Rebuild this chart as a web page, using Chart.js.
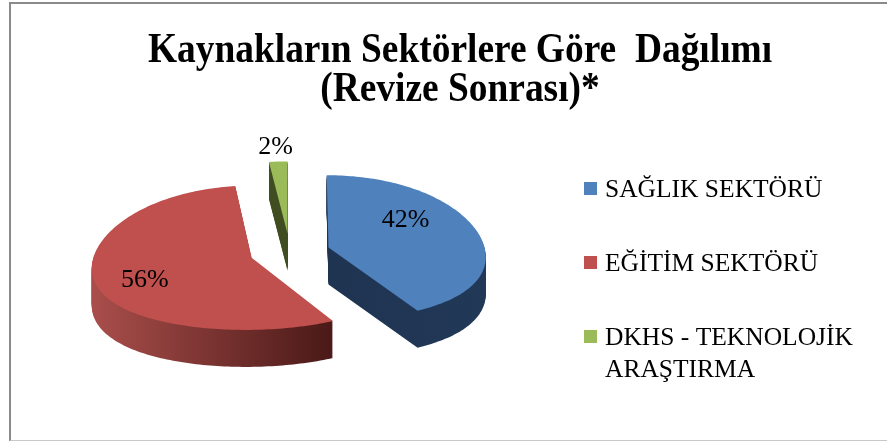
<!DOCTYPE html>
<html>
<head>
<meta charset="utf-8">
<script src="https://cdn.jsdelivr.net/npm/chart.js@4.4.1/dist/chart.umd.min.js"></script>
<style>
html, body { margin: 0; padding: 0; background: #ffffff; }
#wrap { position: relative; width: 887px; height: 442px; overflow: hidden; }
#c { position: absolute; left: 0; top: 0; }
#frame { position: absolute; left: 9px; top: 2px; width: 900px; height: 439px; box-sizing: border-box;
  border-left: 2px solid #8a8a8a; border-top: 2px solid #8a8a8a; border-bottom: 1px solid #c8c8c8; pointer-events: none; }
</style>
</head>
<body>
<div id="wrap"><canvas id="c" width="887" height="442"></canvas><div id="frame"></div></div>
<script>
// ---- data ----
const categories = ['SAĞLIK SEKTÖRÜ', 'EĞİTİM SEKTÖRÜ', 'DKHS - TEKNOLOJİK ARAŞTIRMA'];
const legendLines = [['SAĞLIK SEKTÖRÜ'], ['EĞİTİM SEKTÖRÜ'], ['DKHS - TEKNOLOJİK', 'ARAŞTIRMA']];
const shares = [42, 56, 2];
const titleLines = ['Kaynakların Sektörlere Göre  Dağılımı', '(Revize Sonrası)*'];

// ---- styles ----
const topColors = ['#4f81bd', '#c0504d', '#9bbb59'];
const sideColorsA = ['#1f3451', '#a94e4b', '#3f4d21'];
const sideColorsB = ['#213857', '#4a1917', '#3f4d21'];
const TILT = 0.46;      // vertical squash of the pie plane
const DEPTH = 37;       // extrusion height in px
const PA = 0.00065, PB = 0.000002; // mild perspective (front wider than back)

function proj(px, py, X, Y, d) {
  const s = 1 + PA * Y + PB * Y * Y;
  return [px + X * s, py + Y * TILT + d];
}
function slicePoly(arc) {
  const off = arc.options.offset || 0;
  const mid = (arc.startAngle + arc.endAngle) / 2;
  const ox = Math.cos(mid) * off, oy = Math.sin(mid) * off;
  const r = arc.outerRadius;
  const pts = [[ox, oy]];
  const span = arc.endAngle - arc.startAngle;
  const n = Math.max(4, Math.ceil(span / 0.02));
  for (let i = 0; i <= n; i++) {
    const a = arc.startAngle + span * i / n;
    pts.push([ox + Math.cos(a) * r, oy + Math.sin(a) * r]);
  }
  return pts;
}
function trace(ctx, pts, px, py, d) {
  ctx.beginPath();
  pts.forEach(([X, Y], k) => {
    const [x, y] = proj(px, py, X, Y, d);
    if (k) ctx.lineTo(x, y); else ctx.moveTo(x, y);
  });
  ctx.closePath();
}

const pie3d = {
  id: 'pie3d',
  beforeDatasetsDraw(chart) {
    const ctx = chart.ctx;
    const arcs = chart.getDatasetMeta(0).data;
    if (!arcs.length) return false;
    const px = arcs[0].x, py = arcs[0].y;
    const polys = arcs.map(slicePoly);
    const fills = polys.map((pts, i) => {
      const xs = pts.map(([X, Y]) => proj(px, py, X, Y, 0)[0]);
      const g = ctx.createLinearGradient(Math.min(...xs), 0, Math.max(...xs), 0);
      g.addColorStop(0, sideColorsA[i]);
      g.addColorStop(1, sideColorsB[i]);
      return g;
    });
    for (let d = DEPTH; d >= 1; d--) {
      polys.forEach((pts, i) => { trace(ctx, pts, px, py, d); ctx.fillStyle = fills[i]; ctx.fill(); });
    }
    polys.forEach((pts, i) => { trace(ctx, pts, px, py, 0); ctx.fillStyle = topColors[i]; ctx.fill(); });
    return false;
  },
  afterDraw(chart) {
    const ctx = chart.ctx;
    const arcs = chart.getDatasetMeta(0).data;
    const vals = chart.data.datasets[0].data;
    const total = vals.reduce((a, b) => a + b, 0);
    // percentage labels
    ctx.save();
    ctx.fillStyle = '#000';
    ctx.font = '26px "Liberation Serif", "Times New Roman", serif';
    ctx.textAlign = 'center';
    ctx.textBaseline = 'middle';
    arcs.forEach((arc, i) => {
      const pct = Math.round(vals[i] / total * 100);
      const off = arc.options.offset || 0;
      const mid = (arc.startAngle + arc.endAngle) / 2;
      const r = arc.outerRadius;
      const sx = arc.x + Math.cos(mid) * off;
      const sy = arc.y + Math.sin(mid) * off * TILT;
      let lx, ly;
      if (pct < 5) { lx = sx + Math.cos(mid) * r * 1.2; ly = sy + Math.sin(mid) * r * 1.2 * TILT; }
      else { lx = sx + Math.cos(mid) * r * 0.61 - 16; ly = sy + Math.sin(mid) * r * 0.57 - 5; }
      ctx.fillText(pct + '%', lx, ly);
    });
    ctx.restore();

    // title (condensed bold serif)
    ctx.save();
    ctx.fillStyle = '#000';
    ctx.font = 'bold 43px "Liberation Serif", "Times New Roman", serif';
    ctx.textAlign = 'center';
    ctx.textBaseline = 'alphabetic';
    titleLines.forEach((t, i) => {
      ctx.save();
      ctx.translate(460, 62 + i * 39);
      ctx.scale(0.87, 1);
      ctx.fillText(t, 0, 0);
      ctx.restore();
    });
    ctx.restore();

    // legend
    ctx.save();
    ctx.font = '25.5px "Liberation Serif", "Times New Roman", serif';
    ctx.textAlign = 'left';
    ctx.textBaseline = 'alphabetic';
    legendLines.forEach((lines, i) => {
      const base = 197 + i * 74;
      ctx.fillStyle = topColors[i];
      ctx.fillRect(584, base - 15, 13, 13);
      ctx.fillStyle = '#000';
      lines.forEach((ln, j) => ctx.fillText(ln, 605, base + j * 32));
    });
    ctx.restore();
  }
};

new Chart(document.getElementById('c'), {
  type: 'pie',
  data: {
    labels: categories,
    datasets: [{
      data: shares,
      backgroundColor: topColors,
      borderWidth: 0,
      offset: 40,
      hoverOffset: 0,
      radius: 157
    }]
  },
  options: {
    responsive: false,
    animation: false,
    layout: { padding: { left: 0, right: 307, top: 62, bottom: 0 } },
    plugins: {
      legend: { display: false },
      title: { display: false },
      tooltip: { enabled: false }
    }
  },
  plugins: [pie3d]
});
</script>
</body>
</html>
